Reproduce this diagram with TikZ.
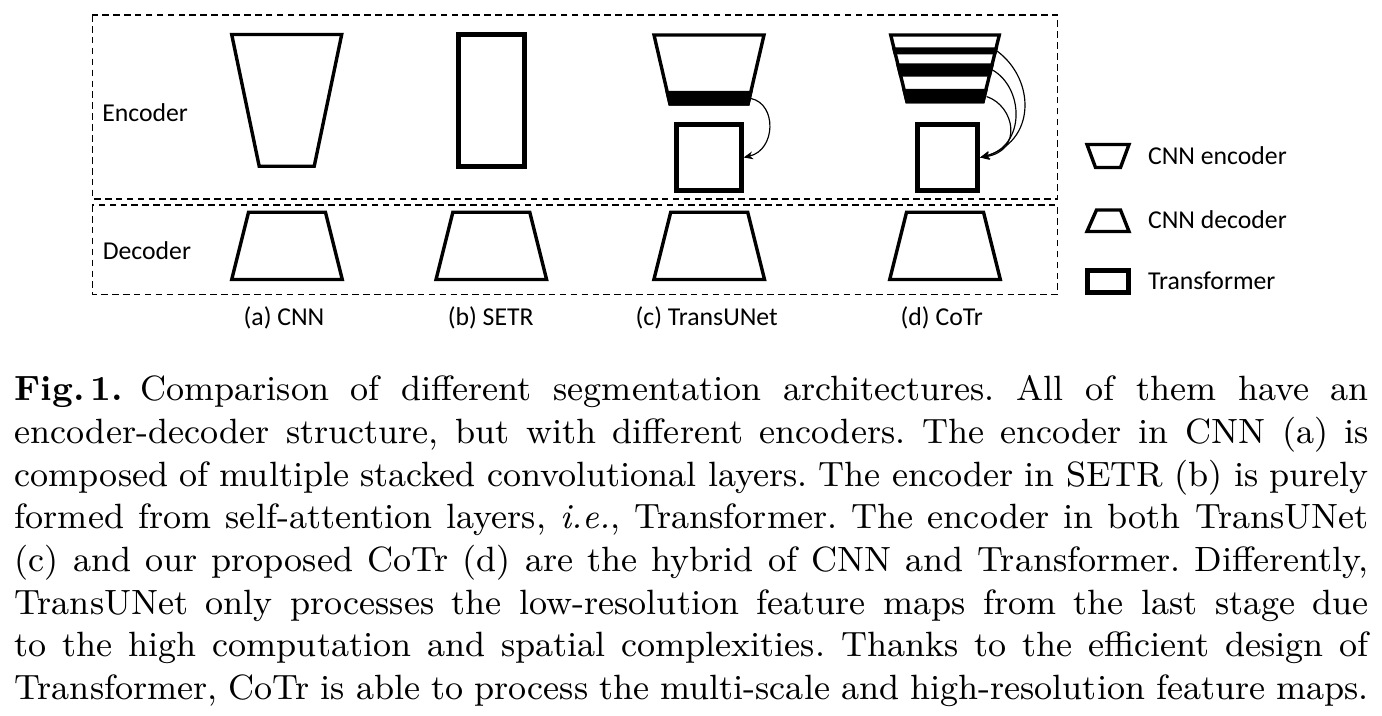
\documentclass[tikz,border=0pt]{standalone}
\usepackage{fontspec}
\newfontfamily\calfont{Carlito}
\usetikzlibrary{arrows.meta}
\tikzset{
  dashbox/.style={draw, line width=0.28pt, dash pattern=on 1.7pt off 1.1pt},
  cnn/.style={draw, line width=0.87pt, line join=miter},
  band/.style={fill=black, draw, line width=0.87pt, line join=miter},
  tbox/.style={draw, rectangle, line width=1.23pt, inner sep=0pt},
  lbl/.style={font=\calfont\fontsize{6.6}{8}\selectfont, inner sep=0pt},
  conn/.style={line width=0.3pt, -{Stealth[length=2.4pt,width=2pt]}},
  capline/.style={anchor=base west, inner sep=0pt, font=\fontsize{9}{11}\selectfont\frenchspacing},
}
\begin{document}
\begin{tikzpicture}[x=0.2564pt, y=-0.2564pt]
\useasboundingbox (0,0) rectangle (1382,716);
% dashed frames
\draw[dashbox] (92.3,15) rectangle (1057.7,199);
\draw[dashbox] (92.3,205) rectangle (1057.7,294.5);
\node[lbl, anchor=base west] (enc) at (101.5,121.7) {Encoder};
\node[lbl, anchor=base west] (dec) at (102,260) {Decoder};

% (a) CNN
\draw[cnn] (231.7,34.5) -- (341.7,34.5) -- (314.2,166.3) -- (259.2,166.3) -- cycle;
\draw[cnn] (248.5,212.3) -- (325.5,212.3) -- (342.3,279.5) -- (231.7,279.5) -- cycle;
\node[lbl, anchor=base] (la) at (284,325.5) {(a) CNN};

% (b) SETR
\node[tbox, minimum width=16.92pt, minimum height=33.87pt] (setr) at (491.3,100.75) {};
\draw[cnn] (452.8,212.3) -- (529.8,212.3) -- (546.6,279.5) -- (436,279.5) -- cycle;
\node[lbl, anchor=base] (lb) at (490.7,325.5) {(b) SETR};

% (c) TransUNet
\draw[cnn] (654,35) -- (764,35) -- (748,104) -- (670,104) -- cycle;
\filldraw[band] (667.4,92.7) -- (750.6,92.7) -- (748,104) -- (670,104) -- cycle;
\node[tbox, minimum width=16.67pt, minimum height=16.92pt] (tsq) at (708.7,157.5) {};
\coordinate (tb) at (751,98.5);
\draw[conn] (tb) .. controls (777,104) and (776,150) .. (tsq.east);
\draw[cnn] (670.7,212.3) -- (747.7,212.3) -- (764.5,279.5) -- (653.9,279.5) -- cycle;
\node[lbl, anchor=base] (lc) at (706.7,325.5) {(c) TransUNet};

% (d) CoTr
\draw[cnn] (890.7,35) -- (999.3,35) -- (983,101.7) -- (907,101.7) -- cycle;
\filldraw[band] (894.1,49.0) -- (995.9,49.0) -- (995,52.6) -- (895,52.6) -- cycle;
\filldraw[band] (898.0,65.0) -- (992.0,65.0) -- (989.5,75.0) -- (900.5,75.0) -- cycle;
\filldraw[band] (904.3,90.7) -- (985.7,90.7) -- (983,101.7) -- (907,101.7) -- cycle;
\node[tbox, minimum width=15.38pt, minimum height=16.92pt] (csq) at (947.8,157.5) {};
\coordinate (cb1) at (997,51);
\coordinate (cb2) at (992.5,70);
\coordinate (cb3) at (986.5,96.5);
\draw[conn] (cb1) .. controls (1036,80) and (1036,142) .. (csq.east);
\draw[conn] (cb2) .. controls (1024,88) and (1026,146) .. (csq.east);
\draw[conn] (cb3) .. controls (1015,106) and (1023,151) .. (csq.east);
\draw[cnn] (906.5,212.3) -- (983.5,212.3) -- (1000.3,279.5) -- (889.7,279.5) -- cycle;
\node[lbl, anchor=base] (ld) at (941.7,325.5) {(d) CoTr};

% legend
\draw[cnn] (1087,144.5) -- (1129,144.5) -- (1120.5,167.5) -- (1095.5,167.5) -- cycle;
\node[lbl, anchor=base west] (le) at (1147.3,164.3) {CNN encoder};
\draw[cnn] (1096.5,210) -- (1120.5,210) -- (1129,231.5) -- (1087,231.5) -- cycle;
\node[lbl, anchor=base west] (ldc) at (1147.3,228.3) {CNN decoder};
\node[tbox, minimum width=10.44pt, minimum height=5.56pt] (ltr) at (1107.85,281.65) {};
\node[lbl, anchor=base west] (lt) at (1147.3,290) {Transformer};

% caption
\node[capline] (c1) at (14,400.7) {\hbox to 347.2pt{\textbf{Fig.\thinspace 1.}\enspace Comparison of different segmentation architectures. All of them have an}};
\node[capline] (c2) at (14,443.4) {\hbox to 347.2pt{encoder-decoder structure, but with different encoders. The encoder in CNN (a) is}};
\node[capline] (c3) at (14,486.0) {\hbox to 347.2pt{composed of multiple stacked convolutional layers. The encoder in SETR (b) is purely}};
\node[capline] (c4) at (14,528.7) {\hbox to 347.2pt{formed from self-attention layers, \textit{i.e.}, Transformer. The encoder in both TransUNet}};
\node[capline] (c5) at (14,571.3) {\hbox to 347.2pt{(c) and our proposed CoTr (d) are the hybrid of CNN and Transformer. Differently,}};
\node[capline] (c6) at (14,614.0) {\hbox to 347.2pt{TransUNet only processes the low-resolution feature maps from the last stage due}};
\node[capline] (c7) at (14,656.7) {\hbox to 347.2pt{to the high computation and spatial complexities. Thanks to the efficient design of}};
\node[capline] (c8) at (14,699.3) {\hbox to 347.2pt{Transformer, CoTr is able to process the multi-scale and high-resolution feature maps.}};
\end{tikzpicture}
\end{document}
